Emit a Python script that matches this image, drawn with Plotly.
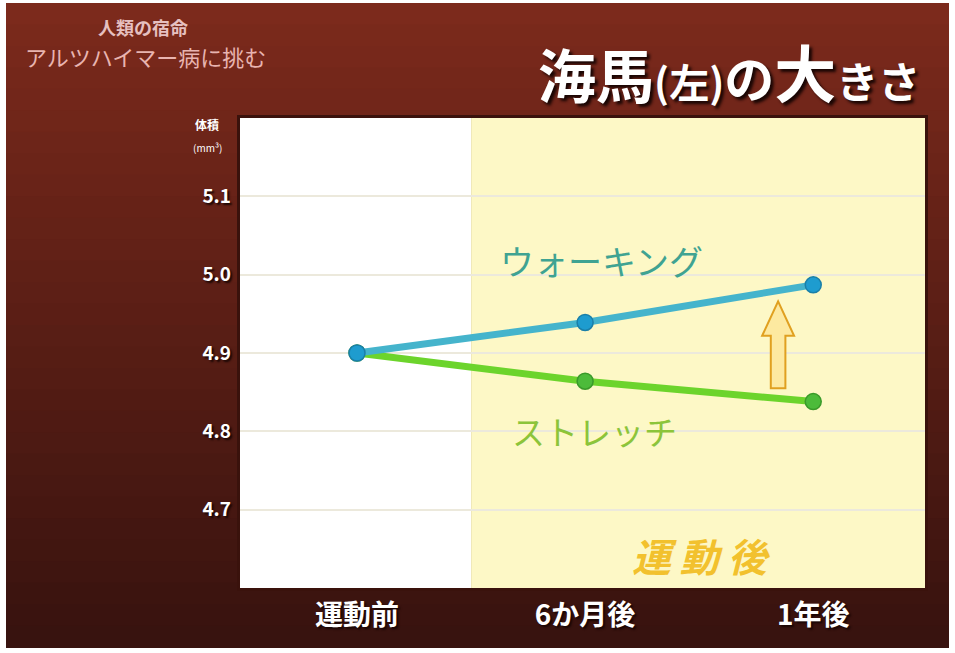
import plotly.graph_objects as go

# ---- data ----
categories = ["運動前", "6か月後", "1年後"]
walking = [4.90, 4.939, 4.987]
stretch = [4.90, 4.864, 4.838]
y_ticks = [4.7, 4.8, 4.9, 5.0, 5.1]
y_ticklabels = ["4.7", "4.8", "4.9", "5.0", "5.1"]

W, H = 955, 653
L, R, T, B = 240, 30, 118, 65
PW, PH = W - L - R, H - T - B

def px(x):
    return (x - L) / PW

def py(y):
    return (H - B - y) / PH

xs = list(range(len(categories)))
x_range = [-0.513, 2.49]
y_range = [4.6, 5.2]

fig = go.Figure()

shapes = []
# background gradient bands (vertical)
top_c = (0x7c, 0x2a, 0x1c)
bot_c = (0x38, 0x13, 0x0f)
nb = 30
y0p, y1p = 3, 647
for i in range(nb):
    t = i / (nb - 1)
    c = tuple(int(top_c[k] + (bot_c[k] - top_c[k]) * t) for k in range(3))
    ya = y0p + (y1p - y0p) * i / nb
    yb = y0p + (y1p - y0p) * (i + 1) / nb + 1
    shapes.append(dict(type="rect", xref="paper", yref="paper",
                       x0=px(6), x1=px(949), y0=py(yb), y1=py(ya),
                       line=dict(width=0), fillcolor="rgb(%d,%d,%d)" % c, layer="below"))
# plot area outline
shapes.append(dict(type="rect", xref="paper", yref="paper", x0=px(237), x1=px(928),
                   y0=py(591), y1=py(115), line=dict(width=0), fillcolor="#3a120c", layer="below"))
# white (before) and yellow (after) regions
shapes.append(dict(type="rect", xref="x", yref="paper", x0=x_range[0], x1=0.5, y0=0, y1=1,
                   line=dict(width=0), fillcolor="#ffffff", layer="below"))
shapes.append(dict(type="rect", xref="x", yref="paper", x0=0.5, x1=x_range[1], y0=0, y1=1,
                   line=dict(width=0), fillcolor="#fdf8c6", layer="below"))

# block arrow between last points
ax = 1.846
a_bot = stretch[2] + 0.017
a_top = walking[2] - 0.021
a_head = a_top - 0.044
hw, sw = 0.07, 0.032
path = (f"M {ax - sw},{a_bot} L {ax - sw},{a_head} L {ax - hw},{a_head} L {ax},{a_top} "
        f"L {ax + hw},{a_head} L {ax + sw},{a_head} L {ax + sw},{a_bot} Z")
shapes.append(dict(type="path", xref="x", yref="y", path=path,
                   fillcolor="#fde9a0", line=dict(color="#e0a020", width=2), layer="above"))

fig.add_trace(go.Scatter(x=xs, y=stretch, mode="lines+markers",
                         line=dict(color="#6cd42c", width=7),
                         marker=dict(size=16, color="#4cbb3a", line=dict(color="#3a9a2a", width=1.5)),
                         showlegend=False, hoverinfo="skip"))
fig.add_trace(go.Scatter(x=xs, y=walking, mode="lines+markers",
                         line=dict(color="#45b4cc", width=7),
                         marker=dict(size=16, color="#1e9ccf", line=dict(color="#1a7fa8", width=1.5)),
                         showlegend=False, hoverinfo="skip"))

shadow = "2px 2px 2px #1a0604"
annotations = [
    dict(text="ウォーキング", x=1.07, y=5.018, xref="x", yref="y", showarrow=False, xanchor="center",
         font=dict(family="Noto Sans CJK JP", size=34, color="#3fa392")),
    dict(text="ストレッチ", x=1.04, y=4.800, xref="x", yref="y", showarrow=False, xanchor="center",
         font=dict(family="Noto Sans CJK JP", size=33, color="#8cc43a")),
    dict(text="<i>運 動 後</i>", x=1.51, y=4.642, xref="x", yref="y", showarrow=False, xanchor="center",
         font=dict(family="Noto Sans CJK JP", size=39, color="#f2c12e", weight="bold")),
    dict(text=('<span style="font-size:58px">海馬</span><span style="font-size:40px">(左)</span>'
               '<span style="font-size:50px">の</span><span style="font-size:62px">大</span>'
               '<span style="font-size:42px">きさ</span>'),
         x=px(922), y=py(71), xref="paper", yref="paper", xanchor="right", yanchor="middle",
         showarrow=False,
         font=dict(family="Noto Sans CJK JP", size=58, color="#ffffff", weight="bold", shadow="3px 3px 3px #1a0604")),
    dict(text="人類の宿命", x=px(143), y=py(27), xref="paper", yref="paper", showarrow=False,
         xanchor="center", yanchor="middle",
         font=dict(family="Noto Sans CJK JP", size=18, color="#e6c0c0", weight="bold")),
    dict(text="アルツハイマー病に挑む", x=px(145), y=py(56), xref="paper", yref="paper", showarrow=False,
         xanchor="center", yanchor="middle",
         font=dict(family="Noto Sans CJK JP", size=22, color="#e8b4b0")),
    dict(text="体積", x=px(207), y=py(125), xref="paper", yref="paper", showarrow=False,
         xanchor="center", yanchor="middle",
         font=dict(family="Noto Sans CJK JP", size=12, color="#ffffff", weight="bold")),
    dict(text="(mm³)", x=px(207), y=py(147), xref="paper", yref="paper", showarrow=False,
         xanchor="center", yanchor="middle",
         font=dict(family="Noto Sans CJK JP", size=10, color="#ffffff")),
]

fig.update_layout(
    width=W, height=H,
    margin=dict(l=L, r=R, t=T, b=B),
    paper_bgcolor="#ffffff", plot_bgcolor="rgba(0,0,0,0)",
    shapes=shapes, annotations=annotations,
    xaxis=dict(range=x_range, tickvals=xs, ticktext=categories, showgrid=False, zeroline=False,
               showline=False, ticks="", ticklabelstandoff=8,
               tickfont=dict(family="Noto Sans CJK JP", size=28, color="#ffffff", weight="bold", shadow=shadow)),
    yaxis=dict(range=y_range, tickvals=y_ticks, ticktext=y_ticklabels, showgrid=True,
               gridcolor="#ece9dc", gridwidth=1.5, zeroline=False, showline=False, ticks="",
               ticklabelstandoff=8,
               tickfont=dict(family="Noto Sans CJK JP", size=19, color="#ffffff", weight="bold", shadow=shadow)),
)

fig.write_html("out.html", config={"displayModeBar": False},
               post_script="document.body.style.margin='0';")
